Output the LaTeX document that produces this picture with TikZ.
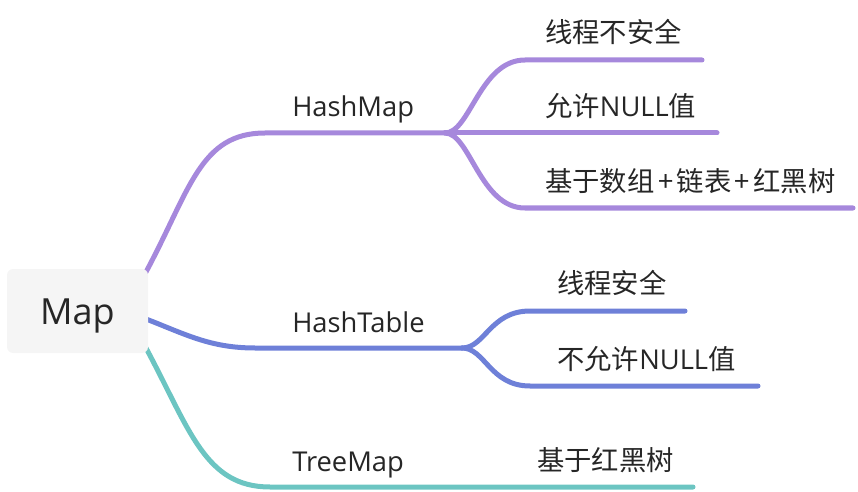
\documentclass[tikz,border=0pt]{standalone}
\usepackage{fontspec}
\setmainfont{Open Sans}
\newfontfamily\cjk{Noto Sans CJK SC}
\usetikzlibrary{backgrounds}
\definecolor{cpurple}{HTML}{A688DC}
\definecolor{cblue}{HTML}{6E80D8}
\definecolor{cteal}{HTML}{6CC5C2}
\definecolor{cbox}{HTML}{F5F5F5}
\definecolor{ctext}{HTML}{262626}
\newcommand{\plussign}{\hspace{2.6pt}+\hspace{2.6pt}}
\begin{document}
\begin{tikzpicture}[x=0.75pt,y=-0.75pt,
  rootbox/.style={fill=cbox,rounded corners=4.5pt,minimum width=105.75pt,minimum height=63pt,inner sep=0pt,text=ctext,text height=24pt,text depth=4.5pt,font=\fontsize{27pt}{32pt}\selectfont},
  lbl/.style={anchor=base west,inner sep=0pt,text=ctext,font=\fontsize{20.5pt}{25pt}\selectfont},
  branch/.style={line width=3.75pt,line cap=round},
]
\useasboundingbox (0,0) rectangle (858,492);
\node[rootbox] (map) at (77.5,311) {Map};

% labels
\node[lbl] (hashmap) at (292,117) {HashMap};
\node[lbl] (hashtable) at (292,332) {HashTable};
\node[lbl] (treemap) at (292,471) {TreeMap};
\node[lbl] (k1) at (545,43) {\cjk 线程不安全};
\node[lbl] (k2) at (545,117) {{\cjk 允许}NULL{\cjk 值}};
\node[lbl] (k3) at (545,191) {\cjk 基于数组\plussign 链表\plussign 红黑树};
\node[lbl] (t1) at (557,293) {\cjk 线程安全};
\node[lbl] (t2) at (557,369) {{\cjk 不允许}NULL{\cjk 值}};
\node[lbl] (m1) at (537,470) {\cjk 基于红黑树};

% coordinates
\coordinate (s1) at (146,272);
\coordinate (s2) at (146,319);
\coordinate (s3) at (146,348);
\coordinate (hm) at (265,133);
\coordinate (hmf) at (445,133);
\coordinate (ht) at (255,348);
\coordinate (htf) at (462,348);
\coordinate (tm) at (270,487);
\coordinate (k1a) at (525,60);
\coordinate (k1b) at (702,60);
\coordinate (k2b) at (717,133);
\coordinate (k3a) at (525,208);
\coordinate (k3b) at (853,208);
\coordinate (t1a) at (530,311);
\coordinate (t1b) at (685,311);
\coordinate (t2a) at (530,386);
\coordinate (t2b) at (758,386);
\coordinate (m1b) at (693,487);

\begin{scope}[on background layer]
% HashMap
\draw[branch,cpurple] (s1) .. controls (190,190) and (200,133) .. (hm) -- (hmf);
\draw[branch,cpurple] (hmf) .. controls (470,133) and (480,60) .. (k1a) -- (k1b);
\draw[branch,cpurple] (hmf) -- (k2b);
\draw[branch,cpurple] (hmf) .. controls (470,133) and (480,208) .. (k3a) -- (k3b);
% HashTable
\draw[branch,cblue] (s2) .. controls (185,334) and (210,348) .. (ht) -- (htf);
\draw[branch,cblue] (htf) .. controls (485,348) and (490,311) .. (t1a) -- (t1b);
\draw[branch,cblue] (htf) .. controls (485,348) and (490,386) .. (t2a) -- (t2b);
% TreeMap
\draw[branch,cteal] (s3) .. controls (190,430) and (205,487) .. (tm) -- (m1b);
\end{scope}
\end{tikzpicture}
\end{document}
